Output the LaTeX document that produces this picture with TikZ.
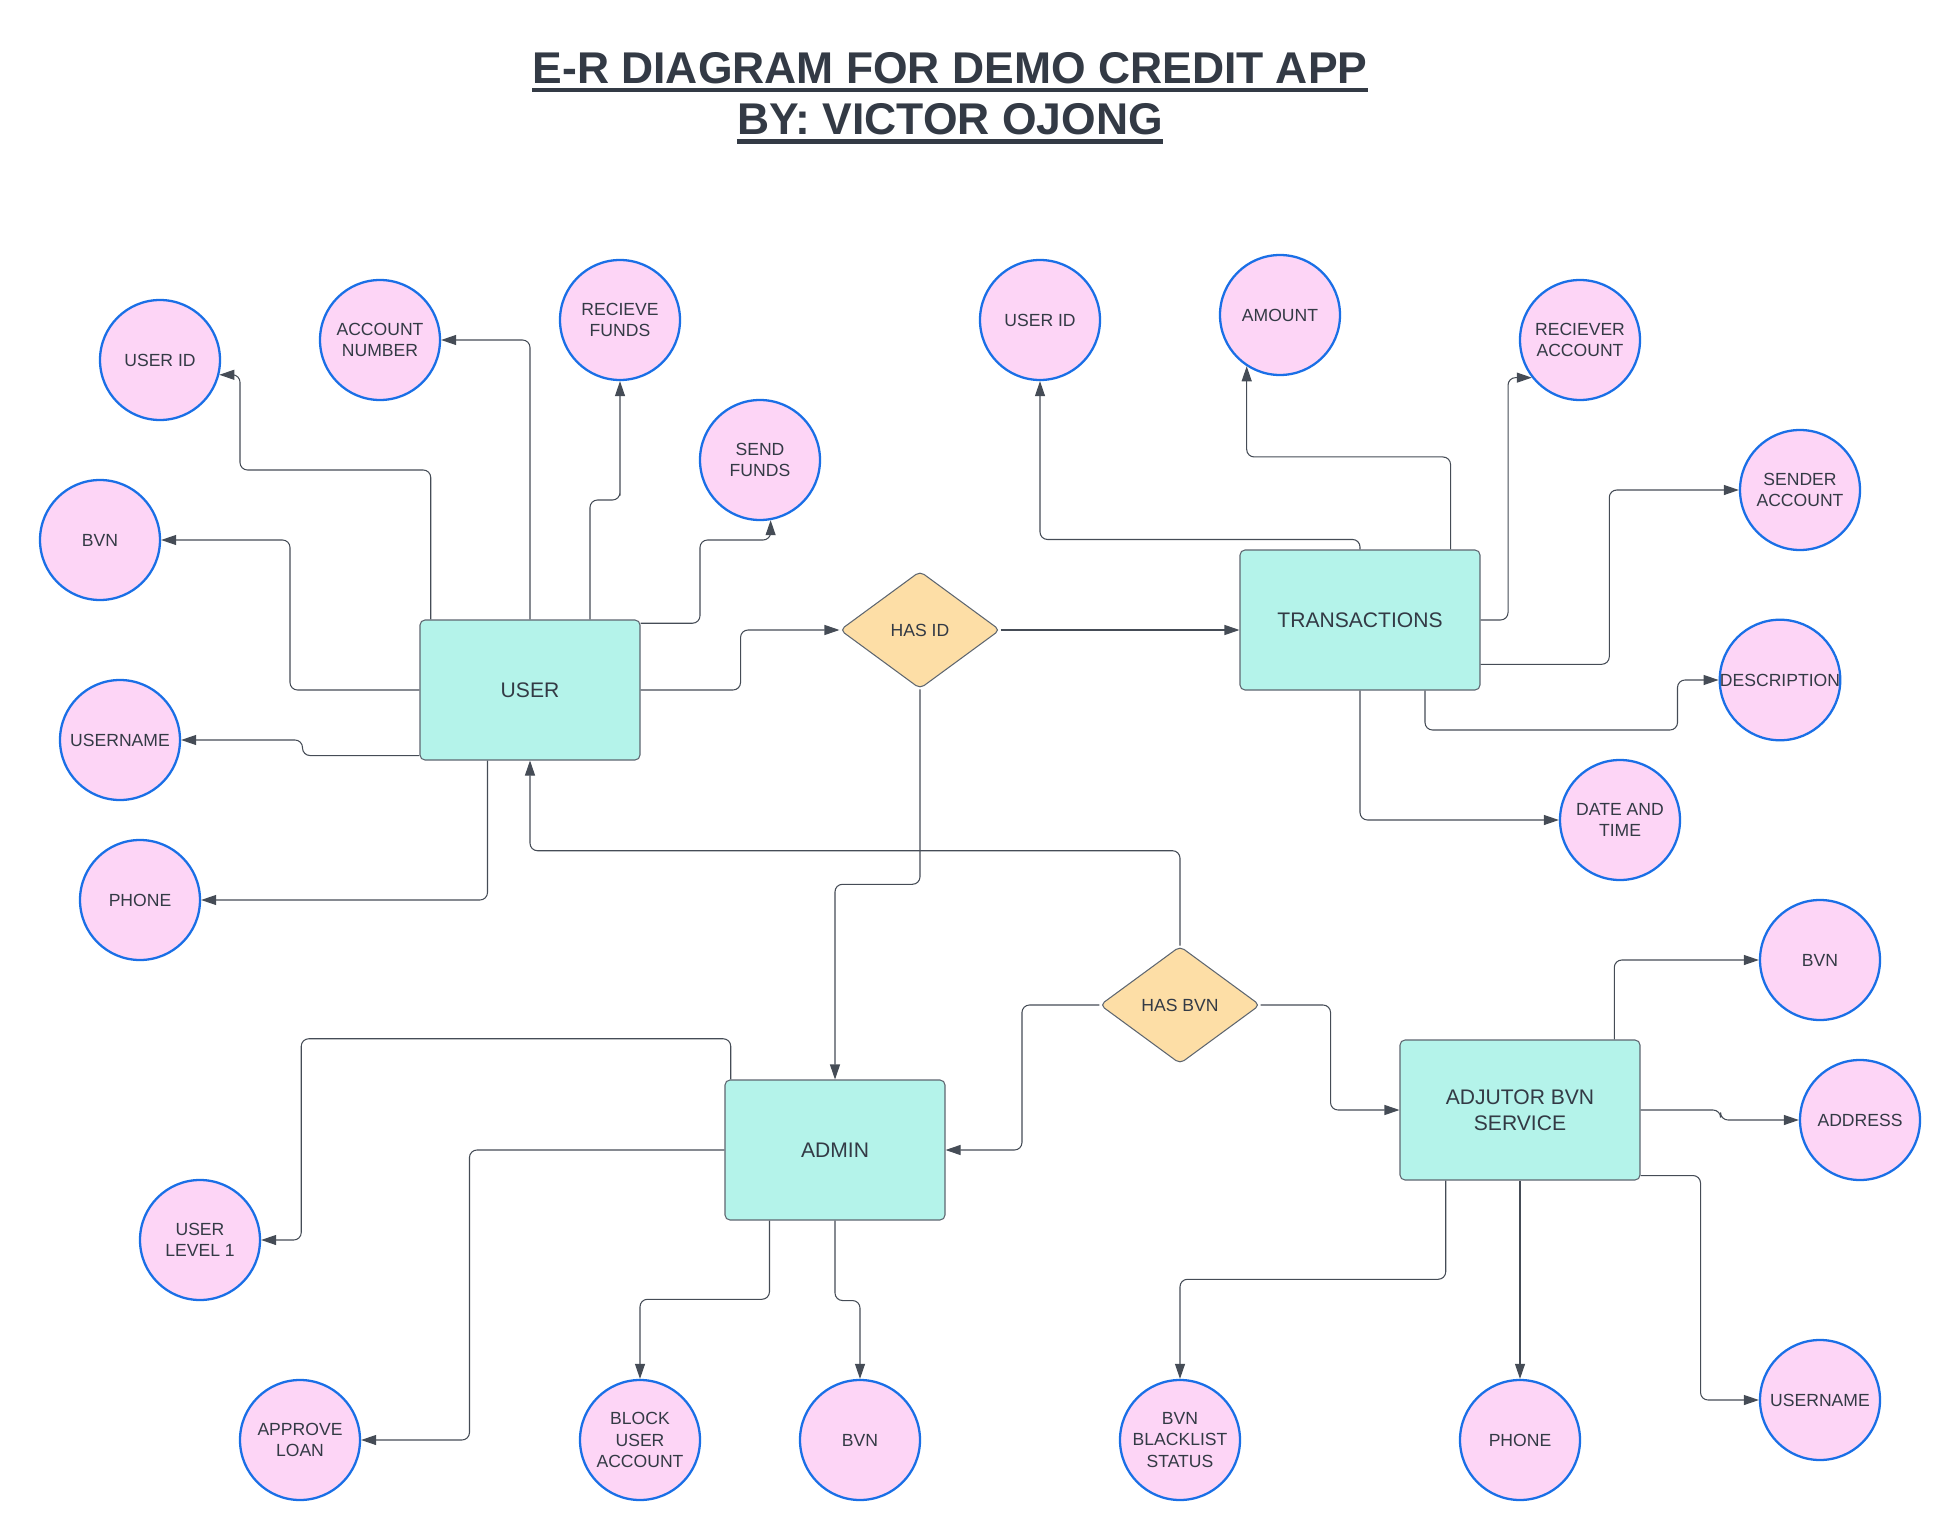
\documentclass[tikz,border=0pt]{standalone}
\usepackage{fontspec}
\setmainfont{Liberation Sans}
\usetikzlibrary{shapes.geometric,arrows.meta,calc}

\definecolor{attrfill}{HTML}{FDD5F6}
\definecolor{attrline}{HTML}{1A6FE6}
\definecolor{entfill}{HTML}{B4F3EA}
\definecolor{relfill}{HTML}{FDDEA6}
\definecolor{boxline}{HTML}{5E6670}
\definecolor{linec}{HTML}{454C56}
\definecolor{txt}{HTML}{333A45}

\begin{document}
\begin{tikzpicture}[x=0.25mm, y=-0.25mm,
	attr/.style={circle, draw=attrline, fill=attrfill, line width=1.3pt, minimum size=24mm, inner sep=0pt, align=center, font=\fontsize{10}{12}\selectfont, text=txt},
	ent/.style={rectangle, rounded corners=1mm, draw=boxline, fill=entfill, line width=0.6pt, minimum width=44mm, minimum height=28mm, align=center, font=\fontsize{12}{15}\selectfont, text=txt},
	rel/.style={diamond, rounded corners=1mm, draw=boxline, fill=relfill, line width=0.6pt, minimum width=32mm, minimum height=23.5mm, inner sep=0pt, font=\fontsize{10}{12}\selectfont, text=txt},
	link/.style={draw=linec, line width=0.6pt, rounded corners=1.5mm, -{Triangle[length=3mm,width=2mm]}},
	ttl/.style={font=\fontsize{25.3}{29}\selectfont\bfseries, text=txt, anchor=base, inner sep=0pt},
	ul/.style={draw=txt, line width=2.6pt}
	]
	\useasboundingbox (0,0) rectangle (1568,1232);
	
	\node[ttl] (title) at (760,67) {E-R DIAGRAM FOR DEMO CREDIT APP};
	\node[ttl] (byline) at (760,108) {BY: VICTOR OJONG};
	\draw[ul] ($(title.base west)+(0,5)$) -- ($(title.base east)+(0,5)$);
	\draw[ul] ($(byline.base west)+(0,5)$) -- ($(byline.base east)+(0,5)$);
	
	% entities and relations
	\node[ent] (user) at (424,552) {USER};
	\node[ent, minimum width=48mm] (trans) at (1088,496) {TRANSACTIONS};
	\node[ent] (admin) at (668,920) {ADMIN};
	\node[ent, minimum width=48mm] (adj) at (1216,888) {ADJUTOR BVN\\SERVICE};
	\node[rel] (hasid) at (736,504) {HAS ID};
	\node[rel] (hasbvn) at (944,804) {HAS BVN};
	
	% user attributes
	\node[attr] (uid) at (128,288) {USER ID};
	\node[attr] (accno) at (304,272) {ACCOUNT\\NUMBER};
	\node[attr] (recv) at (496,256) {RECIEVE\\FUNDS};
	\node[attr] (send) at (608,368) {SEND\\FUNDS};
	\node[attr] (ubvn) at (80,432) {BVN};
	\node[attr] (uname) at (96,592) {USERNAME};
	\node[attr] (uphone) at (112,720) {PHONE};
	
	% transaction attributes
	\node[attr] (tuid) at (832,256) {USER ID};
	\node[attr] (amount) at (1024,252) {AMOUNT};
	\node[attr] (recvacc) at (1264,272) {RECIEVER\\ACCOUNT};
	\node[attr] (sendacc) at (1440,392) {SENDER\\ACCOUNT};
	\node[attr] (desc) at (1424,544) {DESCRIPTION};
	\node[attr] (datet) at (1296,656) {DATE AND\\TIME};
	
	% admin attributes
	\node[attr] (ulevel) at (160,992) {USER\\LEVEL 1};
	\node[attr] (approve) at (240,1152) {APPROVE\\LOAN};
	\node[attr] (block) at (512,1152) {BLOCK\\USER\\ACCOUNT};
	\node[attr] (abvn) at (688,1152) {BVN};
	
	% adjutor attributes
	\node[attr] (jbvn) at (1456,768) {BVN};
	\node[attr] (jaddr) at (1488,896) {ADDRESS};
	\node[attr] (juname) at (1456,1120) {USERNAME};
	\node[attr] (jphone) at (1216,1152) {PHONE};
	\node[attr] (jblist) at (944,1152) {BVN\\BLACKLIST\\STATUS};
	
	% user links
	\draw[link] ($(user.north west)+(9,0)$) |- (192,376) |- (uid.-14);
	\draw[link] (user.north) |- (accno.east);
	\draw[link] ($(user.north)+(48,0)$) |- (496,400) -| (recv.south);
	\draw[link] ($(user.north east)+(0,3)$) -| (560,432) -| (send.-80);
	\draw[link] (user.west) -| (232,432) -- (ubvn.east);
	\draw[link] ($(user.south west)+(0,-4)$) -| (242,592) -- (uname.east);
	\draw[link] ($(user.south)+(-34,0)$) |- (uphone.east);
	\draw[link] (user.east) -- ++(80,0) |- (hasid.west);
	
	% relation links
	\draw[link] (hasid.east) -- (hasid.east -| trans.west);
	\draw[link] (hasid.south) -- ++(0,156) -| (admin.north);
	\draw[link] (hasbvn.north) -- ++(0,-76) -| (user.south);
	\draw[link] (hasbvn.west) -- ++(-62,0) |- (admin.east);
	\draw[link] (hasbvn.east) -- ++(56,0) |- (adj.west);
	
	% transaction links
	\draw[link] (trans.north) -- ++(0,-8) -| (tuid.south);
	\draw[link] ($(trans.north east)+(-24,0)$) -- ++(0,-74) -| (amount.-123);
	\draw[link] (trans.east) -- ++(22,0) |- (recvacc.218);
	\draw[link] ($(trans.south east)+(0,-21)$) -- ++(103,0) |- (sendacc.west);
	\draw[link] ($(trans.south)+(52,0)$) |- (1342,584) |- (desc.west);
	\draw[link] (trans.south) |- (datet.west);
	
	% admin links
	\draw[link] ($(admin.north west)+(5,0)$) |- (241,831) |- (ulevel.east);
	\draw[link] (admin.west) -- ++(-204,0) |- (approve.east);
	\draw[link] ($(admin.south west)+(36,0)$) -- ++(0,63) -| (block.north);
	\draw[link] (admin.south) -- ++(0,64) -| (abvn.north);
	
	% adjutor links
	\draw[link] ($(adj.north east)+(-21,0)$) |- (jbvn.west);
	\draw[link] (adj.east) -- ++(64,0) |- (jaddr.west);
	\draw[link] ($(adj.south east)+(0,-4)$) -- ++(48,0) |- (juname.west);
	\draw[link] (adj.south) -- (jphone.north);
	\draw[link] ($(adj.south west)+(37,0)$) -- ++(0,79) -| (jblist.north);
	
\end{tikzpicture}
\end{document}
